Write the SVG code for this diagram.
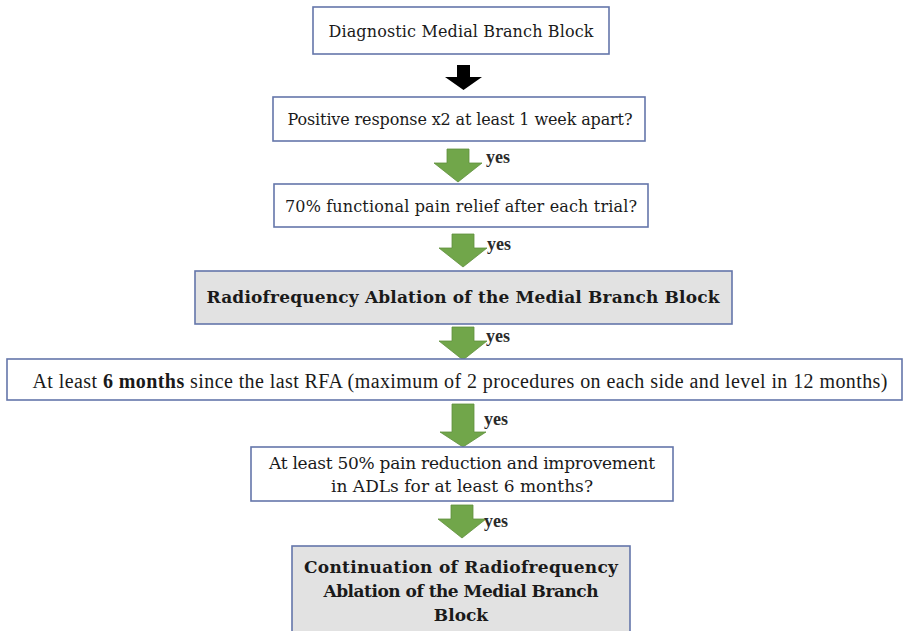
<svg xmlns="http://www.w3.org/2000/svg" width="905" height="631" viewBox="0 0 905 631">
  <style>
    .box { fill: #ffffff; stroke: #6476aa; stroke-width: 1.6; }
    .shade { fill: #e2e2e2; stroke: #6476aa; stroke-width: 1.6; }
    .t { font-family: "DejaVu Serif", "Liberation Serif", serif; font-size: 16px; fill: #1a1a1a; text-anchor: middle; }
    .tb { font-family: "DejaVu Serif", "Liberation Serif", serif; font-size: 17px; font-weight: bold; fill: #1a1a1a; text-anchor: middle; }
    .tn { font-family: "Liberation Serif", "DejaVu Serif", serif; font-size: 20px; fill: #1a1a1a; text-anchor: middle; }
    .yes { font-family: "Liberation Serif", "DejaVu Serif", serif; font-size: 18px; font-weight: bold; fill: #2a2a2a; }
    .go { fill: #71a64a; stroke: #5f8f3c; stroke-width: 0.8; }
  </style>
  <defs>
    <!-- green "yes" arrow, drawn downward from its top centre -->
    <path id="garrow" d="M-11,0 H11 V14 H24 L0,33 L-24,14 H-11 Z"/>
  </defs>

  <rect width="905" height="631" fill="#ffffff"/>

  <g id="connectors">
    <path id="a0" d="M457,65 H470 V77 H482 L463.5,90 L445,77 H457 Z" fill="#000000"/>
    <use href="#garrow" class="go" x="458" y="149"/>
    <text class="yes" x="486" y="163">yes</text>
    <use href="#garrow" class="go" x="463" y="234"/>
    <text class="yes" x="487" y="250">yes</text>
    <use href="#garrow" class="go" x="463" y="327"/>
    <text class="yes" x="486" y="342">yes</text>
    <path class="go" d="M452,404 H474 V432 H486 L463,447 L440,432 H452 Z"/>
    <text class="yes" x="484" y="425">yes</text>
    <use href="#garrow" class="go" x="462" y="505"/>
    <text class="yes" x="484" y="527">yes</text>
  </g>

  <g id="n1">
    <rect class="box" x="313" y="7" width="296" height="47"/>
    <text class="t" x="461" y="37" textLength="265">Diagnostic Medial Branch Block</text>
  </g>

  <g id="n2">
    <rect class="box" x="273" y="97" width="372" height="44"/>
    <text class="t" x="460" y="125" textLength="345">Positive response x2 at least 1 week apart?</text>
  </g>

  <g id="n3">
    <rect class="box" x="274" y="184" width="374" height="43"/>
    <text class="t" x="461" y="212" textLength="352">70% functional pain relief after each trial?</text>
  </g>

  <g id="n4">
    <rect class="shade" x="195" y="271" width="537" height="53"/>
    <text class="tb" x="463" y="303" textLength="513">Radiofrequency Ablation of the Medial Branch Block</text>
  </g>

  <g id="n5">
    <rect class="box" x="7" y="359" width="895" height="41"/>
    <text class="tn" x="460" y="388" textLength="855">At least <tspan font-weight="bold">6 months</tspan> since the last RFA (maximum of 2 procedures on each side and level in 12 months)</text>
  </g>

  <g id="n6">
    <rect class="box" x="251" y="447" width="422" height="54"/>
    <text class="t" x="462" y="469" style="font-size:17px" textLength="386">At least 50% pain reduction and improvement</text>
    <text class="t" x="462" y="492" style="font-size:17px" textLength="262">in ADLs for at least 6 months?</text>
  </g>

  <g id="n7">
    <rect class="shade" x="292" y="546" width="338" height="88"/>
    <text class="tb" x="461" y="573" textLength="314">Continuation of Radiofrequency</text>
    <text class="tb" x="461" y="597" textLength="275">Ablation of the Medial Branch</text>
    <text class="tb" x="461" y="621">Block</text>
  </g>
</svg>
